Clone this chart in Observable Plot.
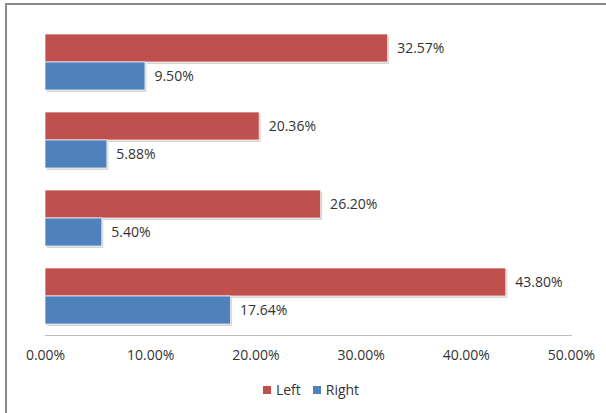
<!DOCTYPE html>
<html>
<head>
<meta charset="utf-8">
<script src="https://cdn.jsdelivr.net/npm/d3@7"></script>
<script src="https://cdn.jsdelivr.net/npm/@observablehq/plot@0.6"></script>
<style>
  html, body { margin: 0; padding: 0; background: #fff; }
  body { width: 606px; height: 413px; position: relative; overflow: hidden; font-family: "Open Sans", sans-serif; }
  #border { position: absolute; left: 5px; top: 3px; width: 640px; height: 450px; border: 2px solid #8a8a8a; box-sizing: border-box; }
  #chart { position: absolute; left: 0; top: 0; }
  #legend { position: absolute; left: 0; width: 622px; top: 380px; display: flex; justify-content: center; align-items: center; font-size: 14px; color: #333; }
  .sw { display: inline-block; width: 8px; height: 8px; margin-right: 5px; }
  .item { display: inline-flex; align-items: center; margin: 0 6px; }
</style>
</head>
<body>
<div id="border"></div>
<div id="chart"></div>
<div id="legend"></div>
<script>
const groups = ["Group 1", "Group 2", "Group 3", "Group 4"];
const leftValues = [0.3257, 0.2036, 0.2620, 0.4380];
const rightValues = [0.0950, 0.0588, 0.0540, 0.1764];
const seriesNames = ["Left", "Right"];
const seriesColors = ["#C0504D", "#4F81BD"];
const xTicks = [0, 0.1, 0.2, 0.3, 0.4, 0.5];

const rows = groups.map((g, i) => ({group: g, left: leftValues[i], right: rightValues[i]}));
const fmt = d3.format(".2%");
const labelFont = 14;

const chart = Plot.plot({
  width: 606,
  height: 372,
  marginLeft: 45,
  marginRight: 35,
  marginTop: 23,
  marginBottom: 37,
  style: {fontFamily: "Open Sans, sans-serif", background: "transparent", overflow: "visible"},
  x: {domain: [0, 0.5]},
  y: {domain: groups, padding: 0, axis: null},
  marks: [
    Plot.barX(rows, {y: "group", x: "left", insetTop: 11, insetBottom: 39, fill: "#000", fillOpacity: 0.16, dx: 1.5, dy: 2}),
    Plot.barX(rows, {y: "group", x: "right", insetTop: 39, insetBottom: 11, fill: "#000", fillOpacity: 0.16, dx: 1.5, dy: 2}),
    Plot.barX(rows, {y: "group", x: "left", insetTop: 11, insetBottom: 39, fill: seriesColors[0], stroke: "#fff", strokeOpacity: 0.7, strokeWidth: 1}),
    Plot.barX(rows, {y: "group", x: "right", insetTop: 39, insetBottom: 11, fill: seriesColors[1], stroke: "#fff", strokeOpacity: 0.7, strokeWidth: 1}),
    Plot.text(rows, {y: "group", x: "left", text: d => fmt(d.left), dy: -14, dx: 9, textAnchor: "start", fontSize: labelFont, fill: "#333"}),
    Plot.text(rows, {y: "group", x: "right", text: d => fmt(d.right), dy: 14, dx: 9, textAnchor: "start", fontSize: labelFont, fill: "#333"}),
    Plot.frame({anchor: "bottom", stroke: "#bfbfbf"}),
    Plot.axisX({ticks: xTicks, tickFormat: fmt, tickSize: 0, tickPadding: 15, fontSize: labelFont, fill: "#333"})
  ]
});
document.getElementById("chart").appendChild(chart);

const legend = document.getElementById("legend");
seriesNames.forEach((name, i) => {
  const item = document.createElement("span");
  item.className = "item";
  const sw = document.createElement("span");
  sw.className = "sw";
  sw.style.background = seriesColors[i];
  item.appendChild(sw);
  item.appendChild(document.createTextNode(name));
  legend.appendChild(item);
});
</script>
</body>
</html>
